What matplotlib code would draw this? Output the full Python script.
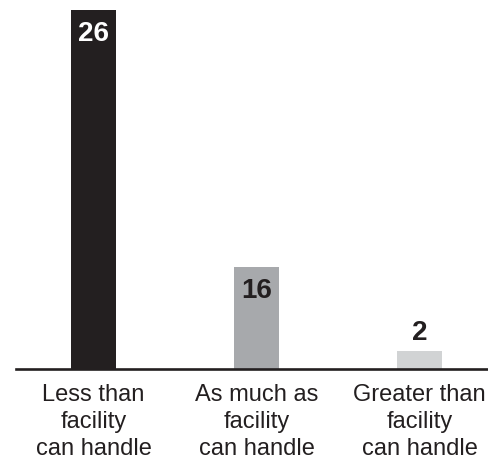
import numpy as np
import matplotlib
matplotlib.use("Agg")
import matplotlib.pyplot as plt

# data
categories = ["Less than\nfacility\ncan handle",
              "As much as\nfacility\ncan handle",
              "Greater than\nfacility\ncan handle"]
values = [26, 16, 2]
bar_colors = ["#231f20", "#a7a9ac", "#d1d3d4"]
label_colors = ["white", "#231f20", "#231f20"]

# the original graphic is not drawn to a linear scale,
# so map the values onto the drawn bar lengths with a custom scale
scale_vals = [0, 2, 16, 26]
scale_pos = [0, 18, 102, 359]


def forward(v):
    return np.interp(v, scale_vals, scale_pos)


def inverse(p):
    return np.interp(p, scale_pos, scale_vals)


plt.rcParams["font.family"] = ["Liberation Sans", "DejaVu Sans"]

fig = plt.figure(figsize=(4.89, 4.60), dpi=100)
ax = fig.add_axes([16 / 489, 90 / 460, 473 / 489, 359 / 460])

x = np.arange(len(values))
ax.bar(x, values, width=0.276, color=bar_colors)
ax.set_yscale("function", functions=(forward, inverse))
ax.set_ylim(0, 26)
ax.set_xlim(-0.475, 2.426)

for i, v in enumerate(values):
    if i < 2:
        ax.annotate(str(v), (i, v), xytext=(0, -7.5), textcoords="offset points",
                    ha="center", va="top", fontsize=20, fontweight="bold",
                    color=label_colors[i])
    else:
        ax.annotate(str(v), (i, v), xytext=(0, 8.6), textcoords="offset points",
                    ha="center", va="baseline", fontsize=20, fontweight="bold",
                    color=label_colors[i])

for s in ["top", "right", "left"]:
    ax.spines[s].set_visible(False)
ax.spines["bottom"].set_linewidth(1.9)
ax.spines["bottom"].set_color("#231f20")
ax.set_yticks([])
ax.set_xticks(x)
ax.set_xticklabels(categories, fontsize=17, color="#231f20", linespacing=1.3)
ax.tick_params(axis="x", length=0, pad=10)

fig.savefig("out.png", dpi=100)
